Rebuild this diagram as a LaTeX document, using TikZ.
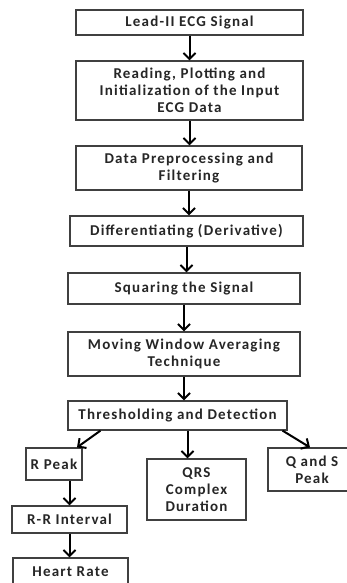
\documentclass[tikz,border=0pt]{standalone}
\usepackage{fontspec}
\setmainfont{Carlito}[LetterSpace=8]
\usetikzlibrary{arrows.meta}

\begin{document}
\begin{tikzpicture}
[x=1pt,y=-1pt,
every node/.style={draw=black!75,line width=1.2pt,fill=white,align=center,inner sep=0pt,
  font=\fontsize{15}{17}\selectfont\bfseries,text=black!85},
flow/.style={line width=2pt,-{Straight Barb[length=6pt,width=12pt,line width=2pt]}},
]
\useasboundingbox (0,0) rectangle (346,583);
\node[minimum width=227pt,minimum height=25pt] (signal) at (189.5,22.5) {Lead-II ECG Signal};
\node[minimum width=227pt,minimum height=59pt] (reading) at (189.5,90.5)
  {Reading, Plotting and\\Initialization of the Input\\ECG Data};
\node[minimum width=226pt,minimum height=44pt] (filter) at (189,168)
  {Data Preprocessing and\\Filtering};
\node[minimum width=233pt,minimum height=30pt] (deriv) at (186.5,231) {Differentiating (Derivative)};
\node[minimum width=232pt,minimum height=31pt] (square) at (184,288.5) {Squaring the Signal};
\node[minimum width=232pt,minimum height=44pt] (window) at (184,354)
  {Moving Window Averaging\\Technique};
\node[minimum width=219pt,minimum height=29pt] (thresh) at (177.5,415.5) {Thresholding and Detection};
\node[minimum width=56pt,minimum height=32pt] (rpeak) at (54,464) {R Peak};
\node[minimum width=99pt,minimum height=61pt] (qrs) at (196.5,489.5) {QRS\\Complex\\Duration};
\node[minimum width=88pt,minimum height=43pt] (qspeak) at (312,469.5) {Q and S\\Peak};
\node[minimum width=115pt,minimum height=27pt] (rr) at (69.5,519.5) {R-R Interval};
\node[minimum width=115pt,minimum height=27pt] (heart) at (70.5,571.5) {Heart Rate};
\draw[flow] (signal.south) -- (signal.south |- reading.north);
\draw[flow] (reading.south) -- (reading.south |- filter.north);
\draw[flow] (filter.south) -- (filter.south |- deriv.north);
\draw[flow] (deriv.south) -- (deriv.south |- square.north);
\draw[flow] (square.south) -- (square.south |- window.north);
\draw[flow] (window.south) -- (window.south |- thresh.north);
\draw[flow] ([xshift=-77pt]thresh.south) -- ([xshift=23pt]rpeak.north);
\draw[flow] ([xshift=10pt]thresh.south) -- ([xshift=10pt]thresh.south |- qrs.north);
\draw[flow] ([xshift=105pt]thresh.south) -- ([xshift=-2pt]qspeak.north);
\draw[flow] (rpeak.south -| rr.north) -- (rr.north);
\draw[flow] (rr.south) -- (rr.south |- heart.north);
\end{tikzpicture}
\end{document}
